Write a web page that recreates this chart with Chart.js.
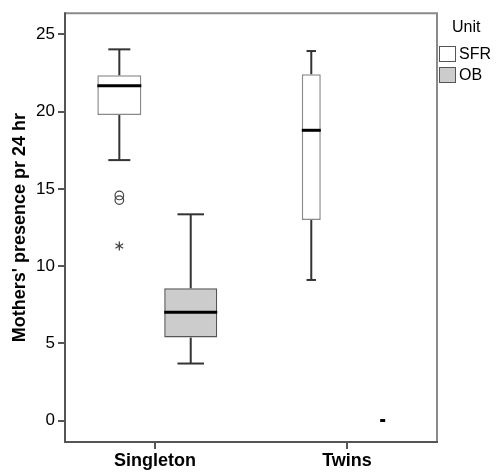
<!DOCTYPE html>
<html><head><meta charset="utf-8">
<script src="https://cdn.jsdelivr.net/npm/chart.js@4/dist/chart.umd.min.js"></script>
<style>html,body{margin:0;padding:0;background:#fff}#wrap{width:496px;height:473px;position:relative}</style>
</head><body><div id="wrap"><canvas id="c"></canvas></div>
<script>
// ---- data ----
const categories = ['Singleton', 'Twins'];
const seriesNames = ['SFR', 'OB'];
const legendTitle = 'Unit';
const yAxisTitle = "Mothers' presence pr 24 hr";
const yTicks = [0, 5, 10, 15, 20, 25];

const sfrMin    = [16.86, 9.10];
const sfrQ1     = [19.78, 12.98];
const sfrMedian = [21.67, 18.79];
const sfrQ3     = [22.35, 22.42];
const sfrMax    = [24.03, 23.92];
const sfrOutliers = [[14.57, 14.27], []];
const sfrExtremes = [[11.3], []];

const obMin    = [3.69, 0];
const obQ1     = [5.37, 0];
const obMedian = [7.01, 0];
const obQ3     = [8.56, 0];
const obMax    = [13.35, 0];
const obOutliers = [[], []];
const obExtremes = [[], []];

const stats = [
  {min: sfrMin, q1: sfrQ1, med: sfrMedian, q3: sfrQ3, max: sfrMax, out: sfrOutliers, ext: sfrExtremes},
  {min: obMin, q1: obQ1, med: obMedian, q3: obQ3, max: obMax, out: obOutliers, ext: obExtremes}
];

// ---- styles ----
const boxWidths = [[44, 19], [53, 5]];
const fills = ['#ffffff', '#cccccc'];
const borders = ['#8a8a8a', '#555555'];
const FONT = "'Liberation Sans', Arial, sans-serif";

const boxPlugin = {
  id: 'boxplot',
  afterDatasetsUpdate(chart) {
    chart.data.datasets.forEach((ds, d) => {
      const meta = chart.getDatasetMeta(d);
      meta.data.forEach((el, i) => { el.width = boxWidths[d][i]; });
    });
  },
  afterDatasetsDraw(chart) {
    const ctx = chart.ctx;
    const y = chart.scales.y;
    ctx.save();
    chart.data.datasets.forEach((ds, d) => {
      const meta = chart.getDatasetMeta(d);
      const s = stats[d];
      meta.data.forEach((el, i) => {
        const cx = el.x, w = el.width;
        const pMin = y.getPixelForValue(s.min[i]);
        const pQ1 = y.getPixelForValue(s.q1[i]);
        const pQ3 = y.getPixelForValue(s.q3[i]);
        const pMax = y.getPixelForValue(s.max[i]);
        const pMed = y.getPixelForValue(s.med[i]);
        ctx.lineCap = 'butt';
        // whiskers
        ctx.strokeStyle = '#333333';
        ctx.lineWidth = 2;
        if (pMax < pQ3) {
          ctx.beginPath(); ctx.moveTo(cx, pQ3); ctx.lineTo(cx, pMax); ctx.stroke();
          ctx.beginPath(); ctx.moveTo(cx - w / 4, pMax); ctx.lineTo(cx + w / 4, pMax); ctx.stroke();
        }
        if (pMin > pQ1) {
          ctx.beginPath(); ctx.moveTo(cx, pQ1); ctx.lineTo(cx, pMin); ctx.stroke();
          ctx.beginPath(); ctx.moveTo(cx - w / 4, pMin); ctx.lineTo(cx + w / 4, pMin); ctx.stroke();
        }
        // median
        ctx.strokeStyle = '#000000';
        ctx.lineWidth = 3;
        ctx.beginPath(); ctx.moveTo(cx - w / 2, pMed); ctx.lineTo(cx + w / 2, pMed); ctx.stroke();
        // outliers (circles)
        ctx.strokeStyle = '#444444';
        ctx.lineWidth = 1.2;
        s.out[i].forEach(v => {
          const py = y.getPixelForValue(v);
          ctx.beginPath(); ctx.arc(cx, py, 4.3, 0, Math.PI * 2); ctx.stroke();
        });
        // extremes (asterisk)
        ctx.lineWidth = 1.3;
        s.ext[i].forEach(v => {
          const py = y.getPixelForValue(v);
          const r = 4.5;
          for (let k = 0; k < 3; k++) {
            const a = Math.PI / 2 + k * Math.PI / 3;
            ctx.beginPath();
            ctx.moveTo(cx - r * Math.cos(a), py - r * Math.sin(a));
            ctx.lineTo(cx + r * Math.cos(a), py + r * Math.sin(a));
            ctx.stroke();
          }
        });
      });
    });
    ctx.restore();
  },
  afterDraw(chart) {
    const ctx = chart.ctx;
    const a = chart.chartArea;
    ctx.save();
    // frame: lighter top/right, darker axis sides
    ctx.lineWidth = 2;
    ctx.strokeStyle = '#8a8a8a';
    ctx.beginPath();
    ctx.moveTo(a.left, a.top); ctx.lineTo(a.right, a.top); ctx.lineTo(a.right, a.bottom);
    ctx.stroke();
    ctx.strokeStyle = '#555555';
    ctx.beginPath();
    ctx.moveTo(a.left, a.top - 1); ctx.lineTo(a.left, a.bottom); ctx.lineTo(a.right + 1, a.bottom);
    ctx.stroke();
    // legend
    ctx.fillStyle = '#000';
    ctx.font = '16px ' + FONT;
    ctx.textBaseline = 'middle';
    ctx.textAlign = 'left';
    ctx.fillText(legendTitle, a.right + 15, 28);
    chart.data.datasets.forEach((ds, d) => {
      const top = 46 + d * 21;
      ctx.fillStyle = ds.backgroundColor;
      ctx.fillRect(a.right + 2.5, top, 16, 15);
      ctx.strokeStyle = '#555';
      ctx.lineWidth = 1;
      ctx.strokeRect(a.right + 2.5, top + 0.5, 16, 15);
      ctx.fillStyle = '#000';
      ctx.fillText(ds.label, a.right + 22, top + 8.5);
    });
    ctx.restore();
  }
};

new Chart(document.getElementById('c'), {
  type: 'bar',
  data: {
    datasets: seriesNames.map((name, d) => ({
      label: name,
      data: categories.map((c, i) => ({x: i, y: [stats[d].q1[i], stats[d].q3[i]]})),
      backgroundColor: fills[d],
      borderColor: borders[d],
      borderWidth: 1.5,
      borderSkipped: false,
      categoryPercentage: 0.744,
      barPercentage: 0.7
    }))
  },
  options: {
    responsive: true,
    maintainAspectRatio: false,
    animation: false,
    layout: {padding: {top: 11, right: 59, left: 0, bottom: 0}},
    plugins: {legend: {display: false}, tooltip: {enabled: false}},
    scales: {
      x: {
        type: 'linear',
        offset: false,
        min: -0.469, max: 1.469,
        afterBuildTicks: s => { s.ticks = categories.map((c, i) => ({value: i})); },
        afterFit: s => { s.height = 31; },
        border: {display: false},
        grid: {offset: false, drawOnChartArea: false, drawTicks: true, tickLength: 7, color: '#555', lineWidth: 2},
        ticks: {
          callback: v => categories[v],
          color: '#000',
          padding: 1,
          maxRotation: 0,
          font: {family: FONT, size: 18, weight: 'bold'}
        }
      },
      y: {
        min: -1.39, max: 26.37,
        afterBuildTicks: s => { s.ticks = yTicks.map(v => ({value: v})); },
        afterFit: s => { s.width = 65; },
        border: {display: false},
        grid: {drawOnChartArea: false, drawTicks: true, tickLength: 7, color: '#555', lineWidth: 2},
        ticks: {color: '#000', padding: 3, font: {family: FONT, size: 17}},
        title: {
          display: true, text: yAxisTitle, color: '#000',
          padding: {top: 9, bottom: 0},
          font: {family: FONT, size: 18, weight: 'bold'}
        }
      }
    }
  },
  plugins: [boxPlugin]
});
</script>
</body></html>
